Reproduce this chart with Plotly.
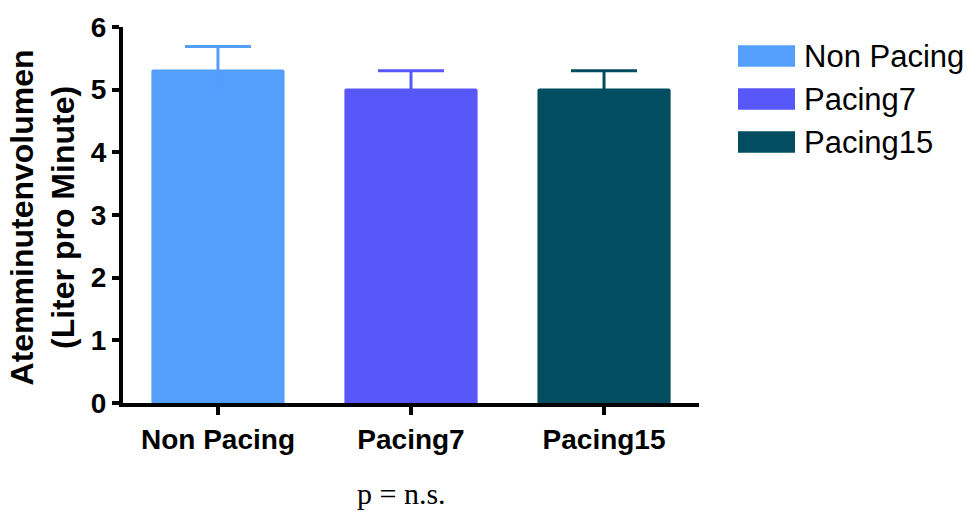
import plotly.graph_objects as go

categories = ["Non Pacing", "Pacing7", "Pacing15"]
means = [5.32, 5.02, 5.02]
errors = [0.37, 0.28, 0.28]
colors = ["#549EFC", "#5858FA", "#034D60"]
y_ticks = [0, 1, 2, 3, 4, 5, 6]
y_title = "Atemminutenvolumen<br>(Liter pro Minute)"
note = "p = n.s."

W, H = 967, 513
L, R, T, B = 123, 268, 18, 110
pw, ph = W - L - R, H - T - B

fig = go.Figure()
for c, m, e, col in zip(categories, means, errors, colors):
    fig.add_trace(go.Bar(
        x=[c], y=[m], name=c, width=0.69,
        marker=dict(color=col, line=dict(width=0), cornerradius=2),
        error_y=dict(type="data", array=[e], symmetric=True, width=33,
                     thickness=3, color=col),
        showlegend=False,
    ))

def px_x(p):
    return (p - L) / pw

def px_y(p):
    return (H - B - p) / ph

shapes = []
annotations = []
row_centers = [47.7, 91.7, 135.7]
for c, col, yc in zip(categories, colors, row_centers):
    shapes.append(dict(type="rect", xref="paper", yref="paper",
                       x0=px_x(738), x1=px_x(795),
                       y0=px_y(yc + 11), y1=px_y(yc - 11),
                       fillcolor=col, line=dict(width=0)))
    annotations.append(dict(text=c, xref="paper", yref="paper",
                            x=px_x(802), y=px_y(yc + 1), xanchor="left",
                            yanchor="middle", showarrow=False,
                            font=dict(family="Liberation Sans, Arial", size=31,
                                      color="black")))

annotations.append(dict(text=y_title, xref="paper", yref="paper",
                        x=px_x(43), y=px_y(213), xanchor="center",
                        yanchor="middle", textangle=-90, showarrow=False,
                        font=dict(family="Liberation Sans, Arial", size=32,
                                  color="black", weight="bold")))
annotations.append(dict(text=note, xref="paper", yref="paper",
                        x=px_x(401), y=px_y(496), xanchor="center",
                        yanchor="middle", showarrow=False,
                        font=dict(family="Liberation Serif, Times New Roman",
                                  size=30, color="black")))

fig.update_layout(
    width=W, height=H,
    margin=dict(l=L, r=R, t=T, b=B, pad=0),
    paper_bgcolor="white", plot_bgcolor="white",
    barmode="overlay",
    shapes=shapes, annotations=annotations,
    xaxis=dict(range=[-0.492, 2.492], showline=True, linecolor="black",
               linewidth=4, ticks="outside", ticklen=8, tickwidth=4,
               tickcolor="black", showgrid=False, zeroline=False,
               tickfont=dict(family="Liberation Sans, Arial", size=28,
                             color="black", weight="bold")),
    yaxis=dict(range=[0, 6], tickvals=y_ticks, showline=True,
               linecolor="black", linewidth=4, ticks="outside", ticklen=7,
               tickwidth=4, tickcolor="black", showgrid=False,
               zeroline=False,
               tickfont=dict(family="Liberation Sans, Arial", size=28,
                             color="black", weight="bold")),
)

fig.write_html("out.html")
